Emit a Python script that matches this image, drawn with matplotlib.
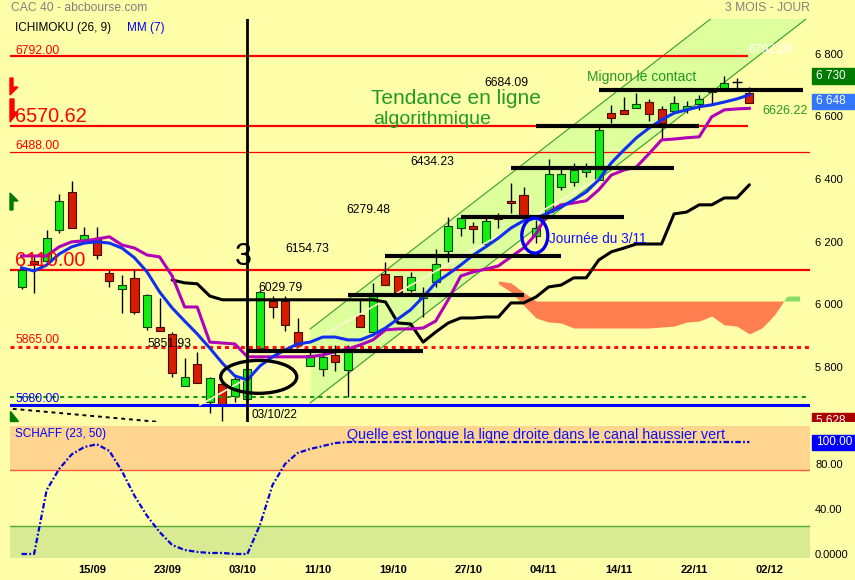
import matplotlib
matplotlib.use("Agg")
import matplotlib.pyplot as plt
import numpy as np
from matplotlib.patches import Rectangle, Ellipse, Polygon
from matplotlib.transforms import Bbox, TransformedBbox, ScaledTranslation

plt.rcParams['font.family'] = ['Liberation Sans', 'DejaVu Sans']

BG = '#FFFFAA'

# daily candles, index 0 = 07/09/22 ... index 58 = 28/11/22
opens = [6057, 6139, 6139, 6238, 6359, 6206, 6212, 6101, 6050, 6085,
         5928, 5928, 5906, 5740, 5810, 5689, 5746, 5708, 5698, 5861,
         6012, 6012, 5912, 5805, 5794, 5839, 5791, 5967, 5913, 6098,
         6091, 6046, 6021, 6073, 6171, 6243, 6252, 6192, 6280, 6330,
         6350, 6219, 6296, 6376, 6390, 6424, 6398, 6610, 6620, 6626,
         6646, 6624, 6619, 6623, 6641, 6679, 6687, 6711, 6674]
highs = [6117, 6158, 6238, 6353, 6394, 6248, 6248, 6110, 6094, 6113,
         6034, 6021, 5912, 5829, 5848, 5769, 5753, 5772, 5797, 6046,
         6028, 6028, 5957, 5855, 5855, 5871, 5871, 6015, 6070, 6137,
         6091, 6105, 6057, 6177, 6280, 6280, 6264, 6280, 6293, 6388,
         6376, 6268, 6464, 6435, 6451, 6451, 6568, 6637, 6663, 6676,
         6656, 6634, 6666, 6650, 6669, 6685, 6729, 6722, 6693]
lows = [6050, 6037, 6135, 6228, 6244, 6206, 6145, 6056, 5973, 5970,
        5919, 5915, 5769, 5740, 5749, 5654, 5628, 5689, 5695, 5858,
        5957, 5916, 5868, 5805, 5772, 5788, 5706, 5929, 5910, 6063,
        6041, 6041, 5961, 6057, 6137, 6219, 6196, 6192, 6245, 6291,
        6278, 6195, 6296, 6366, 6378, 6406, 6398, 6579, 6607, 6626,
        6587, 6527, 6610, 6610, 6621, 6640, 6687, 6690, 6644]
closes = [6110, 6129, 6212, 6331, 6244, 6222, 6158, 6075, 6062, 5976,
          6030, 5915, 5781, 5769, 5749, 5766, 5679, 5762, 5794, 6040,
          5991, 5935, 5868, 5839, 5832, 5818, 5850, 5929, 6037, 6063,
          6041, 6088, 6027, 6128, 6250, 6275, 6242, 6267, 6274, 6325,
          6278, 6244, 6416, 6416, 6429, 6432, 6557, 6594, 6607, 6640,
          6607, 6579, 6642, 6634, 6655, 6683, 6706, 6711, 6644]

mm7 = [6117, 6107, 6126, 6161, 6184, 6196, 6200, 6196, 6180, 6149,
       6104, 6040, 5989, 5947, 5906, 5861, 5813, 5772, 5759, 5804,
       5833, 5855, 5874, 5880, 5896, 5896, 5887, 5887, 5903, 5925,
       5954, 5983, 6024, 6069, 6097, 6126, 6158, 6184, 6212, 6244,
       6267, 6276, 6292, 6311, 6334, 6359, 6398, 6452, 6493, 6532,
       6563, 6589, 6611, 6621, 6631, 6637, 6646, 6656, 6669]
tenkan = [6155, 6155, 6155, 6184, 6200, 6203, 6209, 6216, 6190, 6180,
          6158, 6152, 6091, 5992, 5992, 5880, 5877, 5874, 5833, 5833,
          5833, 5833, 5833, 5833, 5839, 5849, 5858, 5871, 5887, 5919,
          5922, 5922, 5925, 5947, 6015, 6091, 6104, 6113, 6123, 6152,
          6180, 6225, 6295, 6318, 6324, 6331, 6366, 6413, 6429, 6439,
          6481, 6525, 6528, 6532, 6535, 6599, 6621, 6624, 6626]
nan = np.nan
kijun = [nan, nan, nan, nan, nan, nan, nan, nan, nan, nan,
         nan, nan, 6078, 6069, 6066, 6027, 6015, 6015, 6015, 6015,
         6015, 6015, 6015, 6015, 6015, 6015, 6015, 6015, 6015, 6008,
         5941, 5938, 5880, 5912, 5941, 5957, 5957, 5960, 5960, 6005,
         6005, 6024, 6056, 6062, 6085, 6085, 6142, 6168, 6180, 6193,
         6193, 6193, 6289, 6295, 6318, 6318, 6340, 6340, 6382]

# kumo, index 38 .. 62
cloud_idx = list(range(38, 63))
senkou_b = [6075, 6069, 6039, 6011, 6011, 6011, 6011, 6011, 6011, 6011,
            6011, 6011, 6011, 6011, 6011, 6011, 6011, 6011, 6011, 6011,
            6011, 6011, 6011, 6011, 6011]
senkou_a = [6066, 6040, 5998, 5957, 5944, 5941, 5925, 5925, 5925, 5925,
            5925, 5925, 5925, 5928, 5931, 5944, 5947, 5963, 5935, 5931,
            5906, 5925, 5967, 6027, 6027]

schaff = [0, 0, 57, 76, 89, 95.5, 98, 92, 74, 52,
          34, 19.6, 8, 3.6, 1.8, 0.9, 0.9, 0, 0, 26,
          61.6, 80.4, 90.2, 93.8, 96.4, 99.1, 100, 100, 100, 100,
          100, 100, 100, 100, 100, 100, 100, 100, 100, 100,
          100, 100, 100, 100, 100, 100, 100, 100, 100, 100,
          100, 100, 100, 100, 100, 100, 100, 100, 100]

tick_idx = [6, 12, 18, 24, 30, 36, 42, 48, 54, 60]
tick_labels = ['15/09', '23/09', '03/10', '11/10', '19/10', '27/10',
               '04/11', '14/11', '22/11', '02/12']
price_ticks = [5800, 6000, 6200, 6400, 6600, 6800]

# support / resistance steps
sr_levels = [5851.93, 6029.79, 6154.73, 6279.48, 6434.23, 6570.62, 6684.09]
sr_start = [18, 26, 29, 35, 39, 41, 46]
sr_end = [32, 40, 43, 48, 52, 54, 62.3]
sr_label_x = [10.0, 18.9, 21.0, 25.9, 31.0, None, 36.9]

# green channel
chan_x = [23, 63]
chan_up = [5922, 7162]
chan_lo = [5686, 6926]
cream_x = [14.2, 46.1]
cream_y = [5679, 6404]
dash_x = [-0.7, 11.0]
dash_y = [5667, 5625]


def fx(x):
    return x / 855


def fy(y):
    return 1 - y / 580


fig = plt.figure(figsize=(8.55, 5.8), dpi=100, facecolor=BG)
ax = fig.add_axes([fx(10), fy(422), 800 / 855, 403 / 580])
ax2 = fig.add_axes([fx(10), fy(558), 800 / 855, 132 / 580])
for a in (ax, ax2):
    a.set_facecolor('none')
    for s in a.spines.values():
        s.set_visible(False)
    a.set_xlim(-0.92, 62.83)
ax.set_ylim(5625, 6911)
ax2.set_ylim(-3.6, 114.3)

idx = np.arange(len(opens))
o = np.array(opens)
c = np.array(closes)

# channel and cloud
ax.fill_between(chan_x, chan_lo, chan_up, color='#DDFF9C', lw=0, zorder=0.5)
ax.plot(chan_x, chan_up, color='#2E9E2E', lw=0.8, zorder=0.6)
ax.plot(chan_x, chan_lo, color='#2E9E2E', lw=0.8, zorder=0.6)
sa = np.array(senkou_a)
sb = np.array(senkou_b)
ax.fill_between(cloud_idx, sa, sb, where=sb >= sa, interpolate=True,
                color='#FF7F50', lw=0, zorder=1)
ax.fill_between(cloud_idx, sa, sb, where=sa > sb, interpolate=True,
                color='#88DD66', lw=0, zorder=1)

# horizontal levels
ax.hlines(6792, -0.92, 57.9, color='#FF0000', lw=1.6, zorder=2)
ax.hlines(6570.62, -0.92, 57.9, color='#FF0000', lw=1.6, zorder=2)
ax.axhline(6488, color='#FF0000', lw=0.9, zorder=2)
ax.axhline(6110, color='#FF0000', lw=1.6, zorder=2)
ax.axhline(5865, color='#FF1010', lw=2.2, ls=(0, (1.3, 1.3)), zorder=5.5)
ax.axhline(5705, color='#119911', lw=1.5, ls=(0, (2, 2)), zorder=5.5)
ax.axhline(5680, color='#0000FF', lw=2.2, zorder=5.5)
ax.plot(dash_x, dash_y, color='black', lw=1.4, ls=(0, (2, 2)), zorder=5.5)
ax.plot(cream_x, cream_y, color='#FFF6D0', lw=1.2, zorder=5.6)

# candles
up = c >= o
body_col = np.where(up, '#11EE11', '#D81C00')
edge_col = np.where(up, '#124012', '#4A0800')
ax.vlines(idx, lows, highs, color='black', lw=1, zorder=4)
ax.bar(idx, np.abs(c - o), bottom=np.minimum(o, c), width=0.64,
       color=body_col, edgecolor=edge_col, linewidth=0.8, zorder=5)
flat = np.abs(c - o) < 1
ax.hlines(o[flat], idx[flat] - 0.4, idx[flat] + 0.4, color='black', lw=1, zorder=5)

# indicator lines
ax.plot(idx, kijun, color='black', lw=2.2, zorder=6, solid_capstyle='round')
ax.plot(idx, tenkan, color='#B000B8', lw=2.2, zorder=6)
ax.plot(idx, mm7, color='#1030EE', lw=2.2, zorder=6.2)

for lvl, s, e in zip(sr_levels, sr_start, sr_end):
    ax.hlines(lvl, s, e, color='black', lw=3, zorder=7)
for lvl, lx in zip(sr_levels, sr_label_x):
    if lx is not None:
        ax.text(lx, lvl + 22, f'{lvl:.2f}', fontsize=8.8, color='black',
                va='center', ha='left', zorder=9)

ax.axvline(18, color='black', lw=2, zorder=7)
ax.add_patch(Ellipse((18.9, 5769), 6.06, 105, fill=False, ec='black', lw=2.4, zorder=8))
ax.add_patch(Ellipse((40.9, 6220), 2.07, 112, fill=False, ec='#0000EE', lw=2.4, zorder=8))

# right axis labels
ax.yaxis.tick_right()
ax.set_yticks(price_ticks, [f'{v:,}'.replace(',', ' ') for v in price_ticks])
ax.tick_params(axis='y', length=0, pad=3.6, labelsize=8)
ax.set_xticks([])

yt = ax.get_yaxis_transform()
for val, txt, col in [(6730, '6 730', '#007A00'), (6648, '6 648', '#3377FF'),
                      (5628, '5 628', '#AA0000')]:
    r = Rectangle((1.0025, val - 25), 0.054, 50, transform=yt, color=col,
                  clip_on=False, zorder=10)
    t = ax.text(1.0075, val, txt, transform=yt, color='white', fontsize=8.5,
                va='center', ha='left', zorder=11, clip_on=False)
    ax.add_patch(r)
    if val < 5700:
        cb = TransformedBbox(Bbox([[0, 0], [1.2, 1]]), ax.transAxes)
        r.set_clip_on(True)
        r.set_clip_box(cb)
        t.set_clip_on(True)
        t.set_clip_box(cb)

# left flags
flag_shapes = [
    ('#FF0000', [(10, 78), (13, 78), (13, 87), (18, 87), (10, 95)]),
    ('#FF0000', [(10, 99), (14, 99), (14, 112), (18, 112), (10, 122)]),
    ('#007A00', [(10, 193), (18, 201), (13, 201), (13, 210), (10, 210)]),
    ('#007A00', [(10, 411), (10, 421), (18, 421)]),
]
for col, pts in flag_shapes:
    fig.patches.append(Polygon([(fx(x), fy(y)) for x, y in pts], closed=True,
                               color=col, transform=fig.transFigure, zorder=12))

# texts on main panel
fig.text(fx(11), fy(8), 'CAC 40 - abcbourse.com', color='#808080', fontsize=8.7, va='center')
fig.text(fx(810), fy(8), '3 MOIS - JOUR', color='#808080', fontsize=8.7, va='center', ha='right')
fig.text(fx(15), fy(28), 'ICHIMOKU (26, 9)', color='black', fontsize=8.5, va='center')
fig.text(fx(127), fy(28), 'MM (7)', color='#0000FF', fontsize=8.5, va='center')
fig.text(fx(15), fy(51), '6792.00', color='#FF0000', fontsize=8.8, va='center')
fig.text(fx(15), fy(116), '6570.62', color='#FF0000', fontsize=14.3, va='center')
fig.text(fx(15), fy(146), '6488.00', color='#FF0000', fontsize=8.8, va='center')
fig.text(fx(15), fy(261), '6110.00', color='#FF0000', fontsize=14.3, va='center', zorder=20)
fig.text(fx(15), fy(340), '5865.00', color='#FF0000', fontsize=8.8, va='center')
fig.text(fx(15), fy(399), '5680.00', color='#0000FF', fontsize=8.8, va='center')
fig.text(fx(748), fy(50), '6792.00', color='white', fontsize=8.8, va='center')
fig.text(fx(456), fy(98), 'Tendance en ligne', color='#229922', fontsize=15, va='center', ha='center')
fig.text(fx(432), fy(120), 'algorithmique', color='#229922', fontsize=14, va='center', ha='center')
fig.text(fx(587), fy(77), 'Mignon le contact', color='#229922', fontsize=10, va='center')
fig.text(fx(762), fy(111), '6626.22', color='#229922', fontsize=9, va='center')
fig.text(fx(549), fy(239), 'Journée du 3/11', color='#1010FF', fontsize=9.8, va='center')
fig.text(fx(243), fy(257), '3', color='black', fontsize=22, va='center', ha='center')
fig.text(fx(251), fy(415), '03/10/22', color='black', fontsize=8.5, va='center')

# Schaff panel
ax2.axhspan(75, 120, color='#FFD590', lw=0, zorder=0)
ax2.axhspan(-10, 25, color='#D8EA92', lw=0, zorder=0)
ax2.axhline(75, color='#FF5A3A', lw=1, zorder=1)
ax2.axhline(25, color='#55AA33', lw=1, zorder=1)
ax2.plot(idx, schaff, color='#0000DD', lw=1.6, ls=(0, (2.5, 1, 0.8, 1)), zorder=3)
ax2.yaxis.tick_right()
ax2.set_yticks([0, 40, 80], ['0.0000', '40.00', '80.00'])
ax2.tick_params(axis='y', length=0, pad=3.6, labelsize=8)
ax2.set_xticks(tick_idx, tick_labels)
ax2.tick_params(axis='x', length=0, pad=5, labelsize=8)
shift = ScaledTranslation(-5 / 100, 0, fig.dpi_scale_trans)
for lab in ax2.get_xticklabels():
    lab.set_fontweight('bold')
    lab.set_transform(lab.get_transform() + shift)
yt2 = ax2.get_yaxis_transform()
ax2.add_patch(Rectangle((1.0025, 100 - 6.7), 0.054, 13.4, transform=yt2,
                        color='#0000FF', clip_on=False, zorder=10))
ax2.text(1.0075, 100, '100.00', transform=yt2, color='white', fontsize=8.5,
         va='center', ha='left', zorder=11, clip_on=False)
fig.text(fx(15), fy(434), 'SCHAFF (23, 50)', color='#0000FF', fontsize=8.5, va='center')
fig.text(fx(347), fy(435), 'Quelle est longue la ligne droite dans le canal haussier vert',
         color='#1010FF', fontsize=10.4, va='center')

fig.savefig('out.png', dpi=100, facecolor=BG)
